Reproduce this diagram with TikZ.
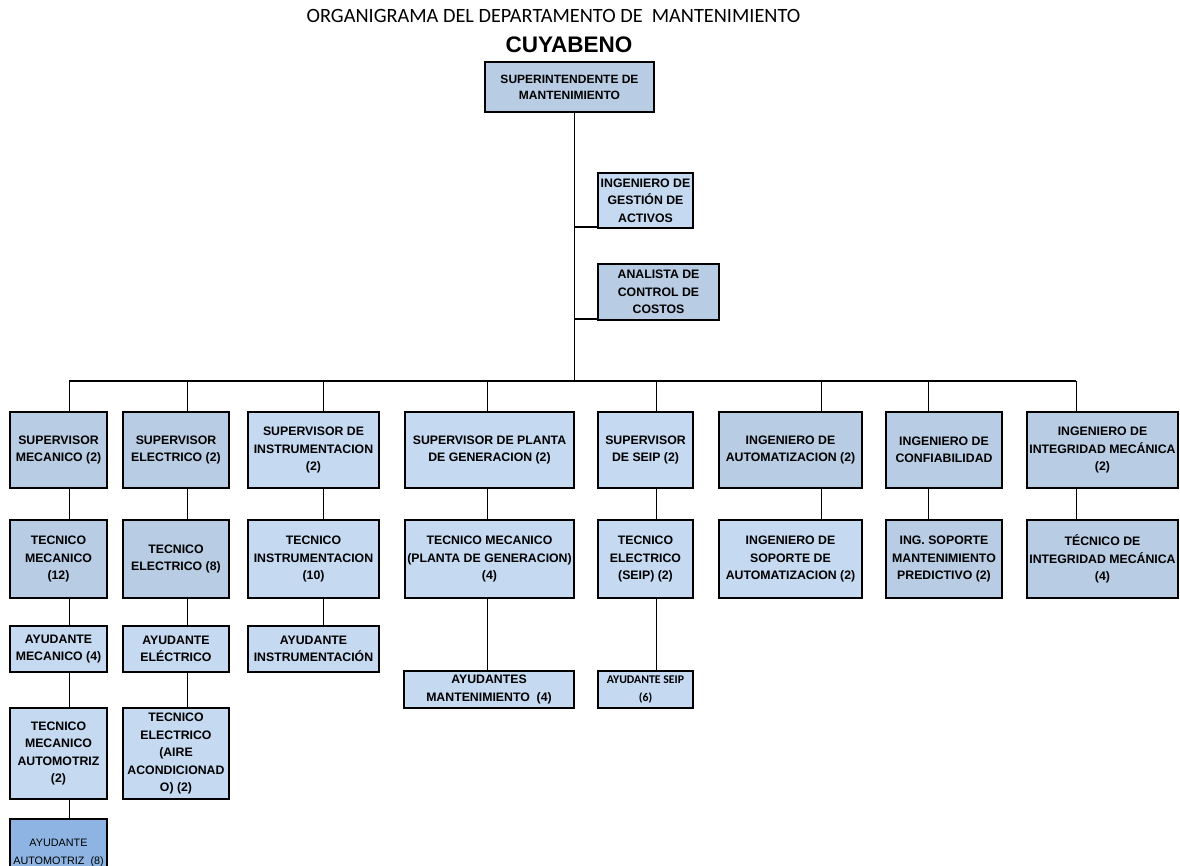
\documentclass[tikz,border=0pt]{standalone}
\usepackage{fontspec}
\setmainfont{Liberation Sans}
\newfontfamily\calibrifont{Carlito}
\usetikzlibrary{shadows}
\definecolor{boxdark}{HTML}{B8CCE4}
\definecolor{boxlight}{HTML}{C5D9F1}
\definecolor{boxblue}{HTML}{8DB4E2}
% \orgbox{name}{style}{x1}{x2}{y1}{y2}{text}
\newcommand{\orgbox}[7]{%
  \node[#2, minimum width={(#4-#3)*1pt}, minimum height={(#6-#5)*1pt}]
    (#1) at ({(#3+#4)/2},{(#5+#6)/2}) {#7};}
\begin{document}
\begin{tikzpicture}[x=1pt,y=-1pt,
  orgbase/.style={draw=black, line width=1.25pt, inner sep=0pt, align=center,
    general shadow={fill=black, shadow xshift=1.2pt, shadow yshift=-1.2pt},
    font=\fontsize{12.3}{17.5}\selectfont\bfseries},
  dark/.style={orgbase, fill=boxdark},
  light/.style={orgbase, fill=boxlight},
  link/.style={line width=1pt},
  buslink/.style={line width=2pt}]
\useasboundingbox (0,0) rectangle (1180,866);
\fill[white] (0,0) rectangle (1180,866);

% headings
\node[font=\calibrifont\fontsize{20.3}{24}\selectfont, anchor=base, inner sep=0pt]
  (title) at (553.5,23) {ORGANIGRAMA DEL DEPARTAMENTO DE~~MANTENIMIENTO};
\node[font=\fontsize{22.5}{26}\selectfont\bfseries, anchor=base, inner sep=0pt]
  (site) at (569,53) {CUYABENO};

% head and staff positions
\orgbox{top}{dark,font=\fontsize{12}{16}\selectfont\bfseries}{485}{654}{62}{112}{SUPERINTENDENTE DE\\MANTENIMIENTO}
\orgbox{gest}{light}{598}{693}{173}{228}{INGENIERO DE\\GESTIÓN DE\\ACTIVOS}
\orgbox{anal}{dark}{598}{719}{264}{320}{ANALISTA DE\\CONTROL DE\\COSTOS}

% supervisors and engineers
\orgbox{smec}{dark}{10}{107}{412}{488}{SUPERVISOR\\MECANICO (2)}
\orgbox{sele}{dark}{123}{229}{412}{488}{SUPERVISOR\\ELECTRICO (2)}
\orgbox{sins}{light}{248}{379}{412}{488}{SUPERVISOR DE\\INSTRUMENTACION\\(2)}
\orgbox{spla}{light}{405}{574}{412}{488}{SUPERVISOR DE PLANTA\\DE GENERACION (2)}
\orgbox{ssei}{light}{598}{693}{412}{488}{SUPERVISOR\\DE SEIP (2)}
\orgbox{iaut}{dark}{719}{862}{412}{488}{INGENIERO DE\\AUTOMATIZACION (2)}
\orgbox{icon}{dark}{886}{1002}{412}{488}{INGENIERO DE\\CONFIABILIDAD}
\orgbox{iint}{dark}{1027}{1178}{412}{488}{INGENIERO DE\\INTEGRIDAD MECÁNICA\\(2)}

% technicians
\orgbox{tmec}{dark}{10}{107}{520}{598}{TECNICO\\MECANICO\\(12)}
\orgbox{tele}{dark}{123}{229}{520}{598}{TECNICO\\ELECTRICO (8)}
\orgbox{tins}{light}{248}{379}{520}{598}{TECNICO\\INSTRUMENTACION\\(10)}
\orgbox{tpla}{light}{405}{574}{520}{598}{TECNICO MECANICO\\(PLANTA DE GENERACION)\\(4)}
\orgbox{tsei}{light}{598}{693}{520}{598}{TECNICO\\ELECTRICO\\(SEIP) (2)}
\orgbox{isau}{light}{719}{862}{520}{598}{INGENIERO DE\\SOPORTE DE\\AUTOMATIZACION (2)}
\orgbox{ismp}{dark}{886}{1002}{520}{598}{ING. SOPORTE\\MANTENIMIENTO\\PREDICTIVO (2)}
\orgbox{tint}{dark}{1027}{1178}{520}{598}{TÉCNICO DE\\INTEGRIDAD MECÁNICA\\(4)}

% helpers
\orgbox{amec}{light}{10}{107}{626}{672}{AYUDANTE\\MECANICO (4)}
\orgbox{aele}{light}{123}{229}{626}{672}{AYUDANTE\\ELÉCTRICO}
\orgbox{ains}{light}{248}{379}{626}{672}{AYUDANTE\\INSTRUMENTACIÓN}
\orgbox{amant}{light,font=\fontsize{12.3}{18.5}\selectfont\bfseries}{404}{574}{671}{708}{AYUDANTES\\MANTENIMIENTO~~(4)}
\orgbox{asei}{light,font=\calibrifont\fontsize{11.8}{18}\selectfont\bfseries}{598}{693}{671}{708}{AYUDANTE SEIP\\(6)}
\orgbox{tmau}{light}{10}{107}{708}{799}{TECNICO\\MECANICO\\AUTOMOTRIZ\\(2)}
\orgbox{teai}{light}{123}{229}{708}{799}{TECNICO\\ELECTRICO\\(AIRE\\ACONDICIONAD\\O) (2)}
\orgbox{aaut}{orgbase,fill=boxblue,font=\fontsize{10.8}{18}\selectfont}{10}{107}{819}{887}{AYUDANTE\\AUTOMOTRIZ~~(8)}

% branch points on the main bus
\coordinate (trunk) at (574,381);
\coordinate (c1) at (69,381);
\coordinate (c2) at (187,381);
\coordinate (c3) at (323,381);
\coordinate (c4) at (487,381);
\coordinate (c5) at (656,381);
\coordinate (c6) at (821,381);
\coordinate (c7) at (928,381);
\coordinate (c8) at (1076,381);

% trunk and staff links (flush with the bottom edge of the staff boxes)
\draw[link] (trunk |- top.south) -- (trunk);
\draw[buslink] ([yshift=1.2pt]trunk |- gest.south west) -- ([yshift=1.2pt]gest.south west);
\draw[buslink] ([yshift=1.2pt]trunk |- anal.south west) -- ([yshift=1.2pt]anal.south west);
\draw[buslink] (c1) -- (c8);

% drops to each column
\draw[link] (c1) -- (c1 |- smec.north) (c1 |- smec.south) -- (c1 |- tmec.north)
  (c1 |- tmec.south) -- (c1 |- amec.north) (c1 |- amec.south) -- (c1 |- tmau.north)
  (c1 |- tmau.south) -- (c1 |- aaut.north);
\draw[link] (c2) -- (c2 |- sele.north) (c2 |- sele.south) -- (c2 |- tele.north)
  (c2 |- tele.south) -- (c2 |- aele.north) (c2 |- aele.south) -- (c2 |- teai.north);
\draw[link] (c3) -- (c3 |- sins.north) (c3 |- sins.south) -- (c3 |- tins.north)
  (c3 |- tins.south) -- (c3 |- ains.north);
\draw[link] (c4) -- (c4 |- spla.north) (c4 |- spla.south) -- (c4 |- tpla.north)
  (c4 |- tpla.south) -- (c4 |- amant.north);
\draw[link] (c5) -- (c5 |- ssei.north) (c5 |- ssei.south) -- (c5 |- tsei.north)
  (c5 |- tsei.south) -- (c5 |- asei.north);
\draw[link] (c6) -- (c6 |- iaut.north) (c6 |- iaut.south) -- (c6 |- isau.north);
\draw[link] (c7) -- (c7 |- icon.north) (c7 |- icon.south) -- (c7 |- ismp.north);
\draw[link] (c8) -- (c8 |- iint.north) (c8 |- iint.south) -- (c8 |- tint.north);
\end{tikzpicture}
\end{document}
